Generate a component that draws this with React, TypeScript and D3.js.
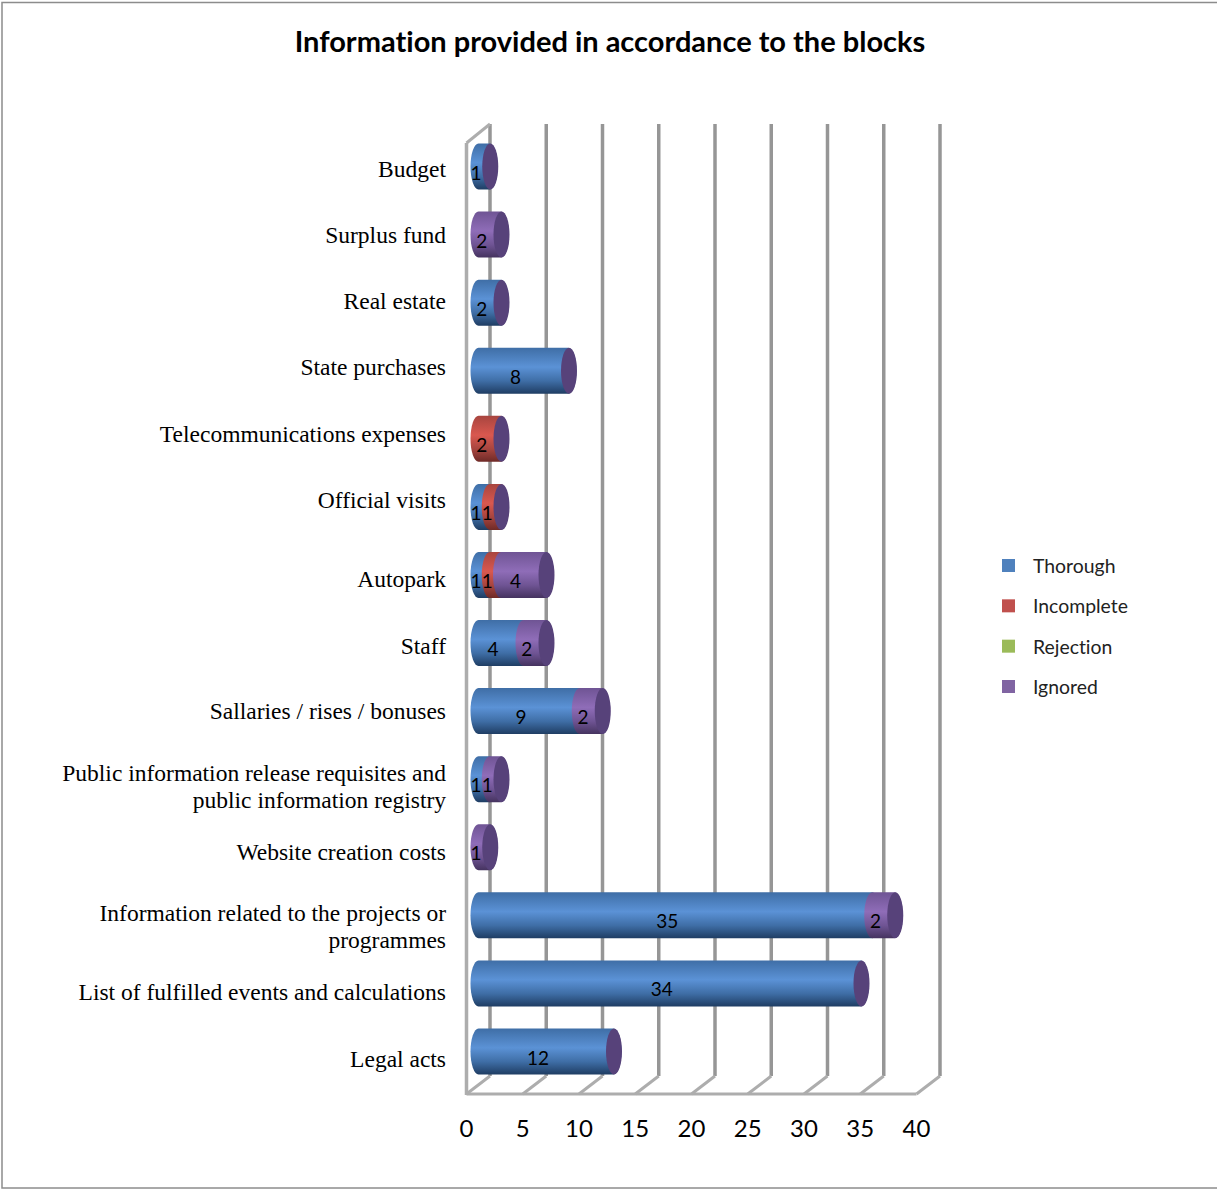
import { FC, useRef, useEffect } from 'react'
import * as d3 from 'd3'

const categories = [
  ['Budget'],
  ['Surplus fund'],
  ['Real estate'],
  ['State purchases'],
  ['Telecommunications expenses'],
  ['Official visits'],
  ['Autopark'],
  ['Staff'],
  ['Sallaries / rises / bonuses'],
  ['Public information release requisites and', 'public information registry'],
  ['Website creation costs'],
  ['Information related to the projects or', 'programmes'],
  ['List of fulfilled events and calculations'],
  ['Legal acts'],
]
const thorough = [1, 0, 2, 8, 0, 1, 1, 4, 9, 1, 0, 35, 34, 12]
const incomplete = [0, 0, 0, 0, 2, 1, 1, 0, 0, 0, 0, 0, 0, 0]
const rejection = [0, 0, 0, 0, 0, 0, 0, 0, 0, 0, 0, 0, 0, 0]
const ignored = [0, 2, 0, 0, 0, 0, 4, 2, 2, 1, 1, 2, 0, 0]
const seriesNames = ['Thorough', 'Incomplete', 'Rejection', 'Ignored']
const xTicks = [0, 5, 10, 15, 20, 25, 30, 35, 40]

// three stops per series: edge, highlight, shadow
const shades: Record<string, string[]> = {
  Thorough: ['#3f6ea6', '#5b92d6', '#1f3d63'],
  Incomplete: ['#a8453f', '#d9584f', '#6e2a27'],
  Rejection: ['#84a24a', '#a6cc5c', '#55692f'],
  Ignored: ['#6f5494', '#8f6db8', '#45335f'],
}
const legendColors = ['#4f81bd', '#c0504d', '#9bbb59', '#8064a2']
const capColor = '#57427a'

// excel shifts the category labels around the wrapped ones
const labelCentres = [170, 236, 302, 368, 435, 501, 580, 646.5, 712, 787.5, 852.5, 927.5, 993, 1059.5]

const App: FC = () => {
  const svgRef = useRef<SVGSVGElement>(null)

  useEffect(() => {
    if (!svgRef.current) return

    const svg = d3.select(svgRef.current)
    svg.selectAll('*').remove()

    const width = 1217
    const height = 1189
    const depthX = 23.5
    const depthY = 18
    const floorY = 1094
    const wallTop = 143
    const rx = 8
    const barH = 46

    svg.attr('width', width).attr('height', height)
    svg.style('font-variant-ligatures', 'none')

    const x = d3.scaleLinear().domain([0, 40]).range([466.5, 916.5])
    const barX = (v: number) => x(v) + 12
    const rows = d3.range(categories.length)
    const y = d3.scalePoint<number>().domain(rows).range([166.5, 1051.5])

    svg.append('rect')
      .attr('x', 2).attr('y', 2.5)
      .attr('width', width + 20).attr('height', height - 3.5)
      .attr('fill', '#fff')
      .attr('stroke', '#8c8c8c')
      .attr('stroke-width', 1.5)

    svg.append('text')
      .attr('x', 610).attr('y', 52)
      .attr('text-anchor', 'middle')
      .attr('font-family', 'Lato')
      .attr('font-weight', 700)
      .attr('font-size', '29px')
      .attr('fill', '#000')
      .text('Information provided in accordance to the blocks')

    // gradients
    const defs = svg.append('defs')
    seriesNames.forEach((name, i) => {
      const g = defs.append('linearGradient')
        .attr('id', `grad-${i}`)
        .attr('x1', 0).attr('x2', 0).attr('y1', 0).attr('y2', 1)
      g.append('stop').attr('offset', '0%').attr('stop-color', shades[name][0])
      g.append('stop').attr('offset', '42%').attr('stop-color', shades[name][1])
      g.append('stop').attr('offset', '72%').attr('stop-color', shades[name][0])
      g.append('stop').attr('offset', '100%').attr('stop-color', shades[name][2])
    })

    // walls
    const grid = svg.append('g').attr('fill', 'none')
    grid.selectAll('line.back')
      .data(xTicks)
      .join('line')
      .attr('class', 'back')
      .attr('x1', d => x(d) + depthX).attr('x2', d => x(d) + depthX)
      .attr('y1', wallTop - 19).attr('y2', floorY - depthY)
      .attr('stroke', '#969696')
      .attr('stroke-width', 3.5)
    grid.selectAll('line.floor')
      .data(xTicks)
      .join('line')
      .attr('class', 'floor')
      .attr('x1', d => x(d)).attr('x2', d => x(d) + depthX)
      .attr('y1', floorY).attr('y2', floorY - depthY)
      .attr('stroke', '#adadad')
      .attr('stroke-width', 3)
    grid.append('line')
      .attr('x1', x(0)).attr('x2', x(40))
      .attr('y1', floorY).attr('y2', floorY)
      .attr('stroke', '#adadad').attr('stroke-width', 3)
    grid.append('line')
      .attr('x1', x(0)).attr('x2', x(0))
      .attr('y1', wallTop).attr('y2', floorY + 1)
      .attr('stroke', '#adadad').attr('stroke-width', 3.5)
    grid.append('line')
      .attr('x1', x(0)).attr('x2', x(0) + depthX)
      .attr('y1', wallTop).attr('y2', wallTop - 19)
      .attr('stroke', '#adadad').attr('stroke-width', 3)

    // stacked cylinders
    const table = rows.map(i => ({
      row: i,
      Thorough: thorough[i],
      Incomplete: incomplete[i],
      Rejection: rejection[i],
      Ignored: ignored[i],
    }))
    const stacked = d3.stack<any>().keys(seriesNames)(table)
    const ry = barH / 2

    const bars = svg.append('g')
    rows.forEach(r => {
      const cy = y(r) as number
      const top = cy - ry
      const bottom = cy + ry
      const row = bars.append('g')
      let total = 0
      stacked.forEach((layer, si) => {
        const [a, b] = layer[r]
        if (b <= a) return
        total = b
        row.append('path')
          .attr('d', `M${barX(a)},${top}L${barX(b)},${top}A${rx},${ry} 0 0 1 ${barX(b)},${bottom}L${barX(a)},${bottom}A${rx},${ry} 0 0 1 ${barX(a)},${top}Z`)
          .attr('fill', `url(#grad-${si})`)
      })
      row.append('ellipse')
        .attr('cx', barX(total) + 0.5).attr('cy', cy)
        .attr('rx', rx).attr('ry', ry)
        .attr('fill', capColor)
      stacked.forEach(layer => {
        const [a, b] = layer[r]
        if (b <= a) return
        row.append('text')
          .attr('x', barX((a + b) / 2) - 8)
          .attr('y', cy + 13)
          .attr('text-anchor', 'middle')
          .attr('font-family', 'Lato')
          .attr('font-size', '19px')
          .attr('fill', '#000')
          .text(b - a)
      })
    })

    // category labels
    const labels = svg.append('g')
      .attr('font-family', '"Liberation Serif"')
      .attr('font-size', '23.5px')
      .attr('fill', '#000')
      .attr('text-anchor', 'end')
    categories.forEach((lines, i) => {
      const lineH = 27
      lines.forEach((line, j) => {
        labels.append('text')
          .attr('x', 446)
          .attr('y', labelCentres[i] + 7 + (j - (lines.length - 1) / 2) * lineH)
          .text(line)
      })
    })

    // x axis labels
    svg.append('g')
      .selectAll('text')
      .data(xTicks)
      .join('text')
      .attr('x', d => x(d))
      .attr('y', 1137)
      .attr('text-anchor', 'middle')
      .attr('font-family', 'Lato')
      .attr('font-size', '24px')
      .attr('fill', '#000')
      .text(d => d)

    // legend
    const legendY = d3.scalePoint<string>().domain(seriesNames).range([566, 687])
    const legend = svg.append('g')
    seriesNames.forEach((name, i) => {
      const ly = legendY(name) as number
      legend.append('rect')
        .attr('x', 1002).attr('y', ly - 7)
        .attr('width', 13).attr('height', 13)
        .attr('fill', legendColors[i])
      legend.append('text')
        .attr('x', 1033).attr('y', ly + 7)
        .attr('font-family', 'Lato')
        .attr('font-size', '19.4px')
        .attr('fill', '#222')
        .text(name)
    })
  }, [])

  return (
    <div style={{ position: 'absolute', left: 0, top: 0 }}>
      <svg ref={svgRef} style={{ display: 'block' }} />
    </div>
  )
}

export default App
